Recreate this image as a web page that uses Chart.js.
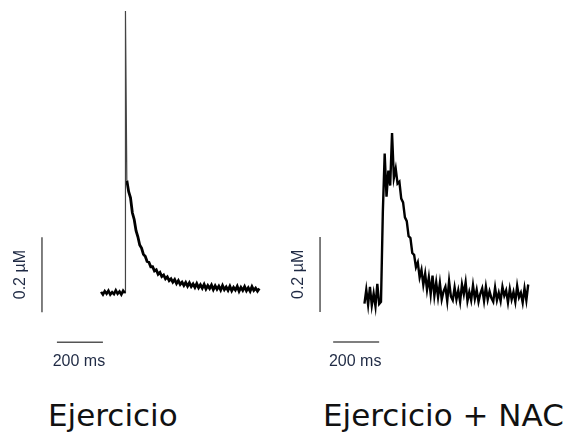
<!DOCTYPE html>
<html>
<head>
<meta charset="utf-8">
<script src="https://cdn.jsdelivr.net/npm/chart.js@4/dist/chart.umd.min.js"></script>
<style>
  body { margin: 0; background: #fff; width: 571px; height: 433px; overflow: hidden; position: relative; }
  canvas { position: absolute; top: 0; }
  #left { left: 0; }
  #right { left: 285px; }
  .titulo { position: absolute; top: 400px; font-family: "DejaVu Sans", sans-serif; font-size: 31px; line-height: 31px; color: #111; white-space: nowrap; }
</style>
</head>
<body>
<canvas id="left" width="285" height="380"></canvas>
<canvas id="right" width="286" height="380"></canvas>
<div class="titulo" style="left:48px">Ejercicio</div>
<div class="titulo" style="left:323px">Ejercicio + NAC</div>

<script>
// ========== datos (Ca2+ en uM sobre la linea base, tiempo en ms desde el estimulo) ==========
const dt = 8;

// Ejercicio
const ejPreT0 = -104;
const ejPre = [0.003, -0.004, 0.005, -0.002, 0.006, -0.004, 0.002, -0.003, 0.007, -0.002, 0.004, -0.004, 0.006, 0.000];
const ejArtefacto = [[0, 0], [0, 0.2], [4, 0.752], [8, 0.300]];
const ejPostT0 = 8;
const ejPost = [
  0.300, 0.270, 0.254, 0.214, 0.196, 0.166, 0.150, 0.128, 0.120, 0.103,
  0.098, 0.084, 0.082, 0.070, 0.070, 0.059, 0.062, 0.050, 0.055, 0.044,
  0.048, 0.038, 0.043, 0.033, 0.038, 0.029, 0.036, 0.025, 0.033, 0.023,
  0.029, 0.020, 0.028, 0.018, 0.027, 0.017, 0.024, 0.015, 0.025, 0.014,
  0.022, 0.013, 0.023, 0.011, 0.020, 0.012, 0.021, 0.009, 0.019, 0.010,
  0.018, 0.008, 0.020, 0.009, 0.016, 0.007, 0.018, 0.006, 0.015, 0.008,
  0.018, 0.005, 0.015, 0.007, 0.017, 0.006, 0.014, 0.005, 0.017, 0.007,
  0.013, 0.005, 0.012
];

// Ejercicio + NAC
const nacT0 = -72;
const nac = [
  -0.015, 0.022, -0.018, 0.030, -0.020, 0.012, -0.022, 0.038, -0.016, -0.010,
  0.230, 0.385, 0.270, 0.340, 0.300, 0.440, 0.320, 0.345, 0.305, 0.310,
  0.265, 0.255, 0.215, 0.205, 0.165, 0.160, 0.120, 0.115, 0.082, 0.095,
  0.055, 0.075, 0.035, 0.065, 0.022, 0.055, 0.010, 0.060, 0.006, 0.042,
  0.002, 0.040, -0.004, 0.018, 0.030, -0.008, 0.045, 0.004, -0.006, 0.028,
  -0.004, 0.020, -0.010, 0.036, 0.010, 0.042, -0.008, 0.016, -0.006, 0.034,
  -0.002, 0.022, -0.010, 0.012, 0.026, -0.008, 0.030, -0.004, 0.018, 0.000,
  -0.010, 0.028, -0.006, 0.014, -0.008, 0.030, 0.006, 0.020, -0.012, 0.024,
  -0.004, 0.016, -0.010, 0.032, 0.002, 0.014, -0.012, 0.026, -0.006, 0.036
];

// barras de escala
const escalaT = 200;   // ms
const escalaCa = 0.2;  // uM

// ========== helpers ==========
const pxPorMs = 46 / 200;
const pxPorUM = 75 / 0.2;

function puntos(t0, vals) {
  return vals.map((v, i) => ({ x: t0 + i * dt, y: v }));
}

// dibuja los textos de las barras de escala
const etiquetas = {
  id: 'etiquetas',
  afterDatasetsDraw(chart) {
    const ctx = chart.ctx;
    const x = chart.scales.x, y = chart.scales.y;
    const b = chart.options.plugins.etiquetas;
    ctx.save();
    ctx.fillStyle = '#1f2a44';
    ctx.font = '16px "Liberation Sans", Arial, sans-serif';
    // 0.2 uM
    ctx.save();
    ctx.translate(x.getPixelForValue(b.vt) - 21, y.getPixelForValue(b.vc + escalaCa / 2));
    ctx.rotate(-Math.PI / 2);
    ctx.textAlign = 'center';
    ctx.textBaseline = 'middle';
    ctx.fillText('0.2 \u00B5M', 0, 0);
    ctx.restore();
    // 200 ms
    ctx.textAlign = 'center';
    ctx.textBaseline = 'alphabetic';
    ctx.fillText('200 ms', x.getPixelForValue(b.ht + escalaT / 2) - 1, y.getPixelForValue(b.hc) + 24);
    ctx.restore();
  }
};

function panel(id, ancho, xEstim, yBase, trazas, barras) {
  const alto = 380;
  const config = {
    type: 'line',
    data: {
      datasets: trazas.concat([
        { data: [{ x: barras.vt, y: barras.vc }, { x: barras.vt, y: barras.vc + escalaCa }], borderColor: '#555', borderWidth: 1.5 },
        { data: [{ x: barras.ht, y: barras.hc }, { x: barras.ht + escalaT, y: barras.hc }], borderColor: '#555', borderWidth: 1.5 }
      ])
    },
    options: {
      responsive: false,
      animation: false,
      layout: { padding: 0 },
      elements: { point: { radius: 0 }, line: { tension: 0 } },
      plugins: { legend: { display: false }, tooltip: { enabled: false }, etiquetas: barras },
      scales: {
        x: { type: 'linear', display: false, min: -xEstim / pxPorMs, max: (ancho - xEstim) / pxPorMs },
        y: { type: 'linear', display: false, min: (yBase - alto) / pxPorUM, max: yBase / pxPorUM }
      }
    },
    plugins: [etiquetas]
  };
  return new Chart(document.getElementById(id), config);
}

panel('left', 285, 125, 293, [
  { data: puntos(ejPreT0, ejPre), borderColor: '#000', borderWidth: 2.6 },
  { data: ejArtefacto.map(p => ({ x: p[0], y: p[1] })), borderColor: '#444', borderWidth: 1.2 },
  { data: puntos(ejPostT0, ejPost), borderColor: '#000', borderWidth: 2.8 }
], { vt: -361, vc: -0.051, ht: -296, hc: -0.131 });

panel('right', 286, 96, 298, [
  { data: puntos(nacT0, nac), borderColor: '#000', borderWidth: 2.4 }
], { vt: -265, vc: -0.037, ht: -208, hc: -0.117 });
</script>
</body>
</html>
